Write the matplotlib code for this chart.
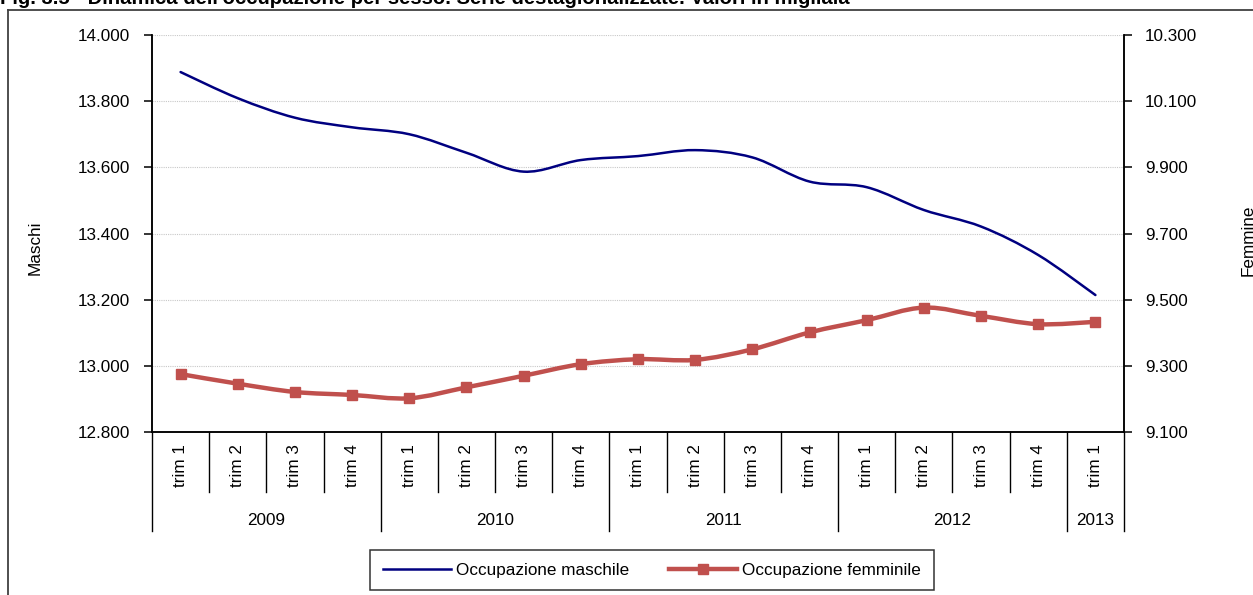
import numpy as np
import matplotlib.pyplot as plt
from matplotlib.path import Path
from matplotlib.patches import PathPatch
from matplotlib.lines import Line2D
from matplotlib.ticker import FuncFormatter

plt.rcParams['font.family'] = ['Liberation Sans', 'DejaVu Sans']
plt.rcParams['font.size'] = 12.3

# occupati per sesso, serie destagionalizzate (migliaia)
anni = ['2009', '2010', '2011', '2012', '2013']
trim_per_anno = [4, 4, 4, 4, 1]
trimestri = ['trim 1', 'trim 2', 'trim 3', 'trim 4'] * 4 + ['trim 1']
maschi = [13888, 13809, 13750, 13721, 13700, 13644, 13587, 13622, 13634,
          13652, 13630, 13557, 13540, 13471, 13421, 13335, 13214]
femmine = [9275, 9246, 9221, 9212, 9202, 9235, 9270, 9305, 9320,
           9318, 9350, 9401, 9438, 9476, 9451, 9426, 9433]
tick_maschi = [12800, 13000, 13200, 13400, 13600, 13800, 14000]
tick_femmine = [9100, 9300, 9500, 9700, 9900, 10100, 10300]

BLU = '#000080'
ROSSO = '#C0504D'


def curva(x, y):
    # linea smussata con tratti di Bezier (tipo Catmull-Rom)
    pts = np.column_stack([x, y]).astype(float)
    n = len(pts)
    verts = [pts[0]]
    codes = [Path.MOVETO]
    for i in range(n - 1):
        p0 = pts[i - 1] if i > 0 else pts[i]
        p3 = pts[i + 2] if i + 2 < n else pts[i + 1]
        c1 = pts[i] + (pts[i + 1] - p0) / 6
        c2 = pts[i + 1] - (p3 - pts[i]) / 6
        verts += [c1, c2, pts[i + 1]]
        codes += [Path.CURVE4] * 3
    return Path(verts, codes)


def migliaia(v, pos):
    return f'{v:,.0f}'.replace(',', '.')


fig = plt.figure(figsize=(12.53, 5.95), dpi=100)
ax = fig.add_axes([152 / 1253, 1 - 432 / 595, 972 / 1253, 397 / 595])
ax2 = ax.twinx()

x = np.arange(len(trimestri))

ax.add_patch(PathPatch(curva(x, maschi), facecolor='none', edgecolor=BLU, lw=1.8,
                       capstyle='round'))
ax2.add_patch(PathPatch(curva(x, femmine), facecolor='none', edgecolor=ROSSO, lw=3.2,
                        capstyle='round'))
ax2.plot(x, femmine, ls='none', marker='s', ms=7, color=ROSSO)

ax.set_xlim(-0.5, len(x) - 0.5)
ax.set_ylim(tick_maschi[0], tick_maschi[-1])
ax2.set_ylim(tick_femmine[0], tick_femmine[-1])
ax.set_yticks(tick_maschi)
ax2.set_yticks(tick_femmine)
ax.yaxis.set_major_formatter(FuncFormatter(migliaia))
ax2.yaxis.set_major_formatter(FuncFormatter(migliaia))

ax.grid(axis='y', color='#C8C8C8', ls=(0, (1, 1)), lw=0.8)
ax.set_axisbelow(True)

for a in (ax, ax2):
    a.spines['top'].set_visible(False)
    for s in a.spines.values():
        s.set_linewidth(1.1)
ax.tick_params(axis='y', direction='out', length=6, width=1.1, pad=10)
ax2.tick_params(axis='y', direction='out', length=6, width=1.1, pad=9)

# etichette dei trimestri
ax.set_xticks(x, trimestri, rotation=90)
ax.tick_params(axis='x', length=0, pad=9)

# separatori dell'asse a due livelli
tr = ax.get_xaxis_transform()
confini_anno = np.cumsum([0] + trim_per_anno) - 0.5
for b in np.arange(len(x) + 1) - 0.5:
    basso = -0.249 if b in confini_anno else -0.151
    ax.plot([b, b], [0, basso], transform=tr, color='black', lw=1.0, clip_on=False)

inizio = 0
for anno, n in zip(anni, trim_per_anno):
    ax.text(inizio + (n - 1) / 2, -0.222, anno, transform=tr, ha='center', va='center')
    inizio += n

fig.text(35 / 1253, 1 - 248 / 595, 'Maschi', rotation=90, ha='center', va='center')
fig.text(1248 / 1253, 1 - 240 / 595, 'Femmine', rotation=90, ha='center', va='center')

fig.text(0.0, 1 - 3.5 / 595,
         "Fig. 3.5 - Dinamica dell'occupazione per sesso. Serie destagionalizzate. "
         "Valori in migliaia", fontweight='bold', fontsize=14.6, va='baseline', ha='left')

# cornice del grafico
fig.add_artist(Line2D([8 / 1253, 8 / 1253], [0, 1 - 10 / 595], color='#404040', lw=1.3))
fig.add_artist(Line2D([8 / 1253, 1], [1 - 10 / 595, 1 - 10 / 595], color='#404040', lw=1.3))

handles = [Line2D([], [], color=BLU, lw=1.8),
           Line2D([], [], color=ROSSO, lw=3.2, marker='s', ms=7)]
leg = fig.legend(handles, ['Occupazione maschile', 'Occupazione femminile'],
                 loc='center', bbox_to_anchor=(652 / 1253, 1 - 570 / 595), ncol=2,
                 frameon=True, fancybox=False, edgecolor='black', handlelength=4.0,
                 handletextpad=0.3, columnspacing=2.3, borderpad=0.75,
                 borderaxespad=0)
leg.get_frame().set_linewidth(1.1)

fig.savefig('out.png', dpi=100)
